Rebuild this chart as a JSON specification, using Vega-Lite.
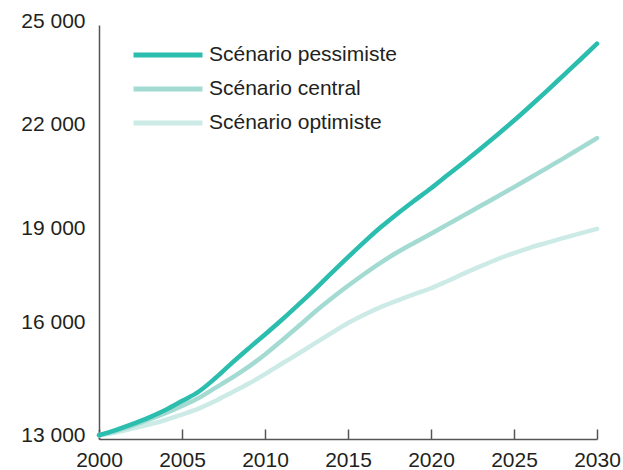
{
  "$schema": "https://vega.github.io/schema/vega-lite/v6.json",
  "width": 498,
  "height": 414,
  "autosize": "none",
  "padding": {"left": 99, "top": 25, "right": 26, "bottom": 31},
  "background": "white",
  "config": {
    "view": {"stroke": null},
    "font": "Liberation Sans"
  },
  "data": {
    "values": [
      {"annee": 2000, "scenario": "Scénario optimiste", "valeur": 13110},
      {"annee": 2001, "scenario": "Scénario optimiste", "valeur": 13190},
      {"annee": 2002, "scenario": "Scénario optimiste", "valeur": 13300},
      {"annee": 2003, "scenario": "Scénario optimiste", "valeur": 13420},
      {"annee": 2004, "scenario": "Scénario optimiste", "valeur": 13550},
      {"annee": 2005, "scenario": "Scénario optimiste", "valeur": 13710},
      {"annee": 2006, "scenario": "Scénario optimiste", "valeur": 13880},
      {"annee": 2007, "scenario": "Scénario optimiste", "valeur": 14100},
      {"annee": 2008, "scenario": "Scénario optimiste", "valeur": 14350},
      {"annee": 2009, "scenario": "Scénario optimiste", "valeur": 14600},
      {"annee": 2010, "scenario": "Scénario optimiste", "valeur": 14880},
      {"annee": 2011, "scenario": "Scénario optimiste", "valeur": 15180},
      {"annee": 2012, "scenario": "Scénario optimiste", "valeur": 15470},
      {"annee": 2013, "scenario": "Scénario optimiste", "valeur": 15770},
      {"annee": 2014, "scenario": "Scénario optimiste", "valeur": 16070},
      {"annee": 2015, "scenario": "Scénario optimiste", "valeur": 16360},
      {"annee": 2016, "scenario": "Scénario optimiste", "valeur": 16610},
      {"annee": 2017, "scenario": "Scénario optimiste", "valeur": 16830},
      {"annee": 2018, "scenario": "Scénario optimiste", "valeur": 17020},
      {"annee": 2019, "scenario": "Scénario optimiste", "valeur": 17200},
      {"annee": 2020, "scenario": "Scénario optimiste", "valeur": 17370},
      {"annee": 2021, "scenario": "Scénario optimiste", "valeur": 17580},
      {"annee": 2022, "scenario": "Scénario optimiste", "valeur": 17800},
      {"annee": 2023, "scenario": "Scénario optimiste", "valeur": 18010},
      {"annee": 2024, "scenario": "Scénario optimiste", "valeur": 18210},
      {"annee": 2025, "scenario": "Scénario optimiste", "valeur": 18390},
      {"annee": 2026, "scenario": "Scénario optimiste", "valeur": 18550},
      {"annee": 2027, "scenario": "Scénario optimiste", "valeur": 18690},
      {"annee": 2028, "scenario": "Scénario optimiste", "valeur": 18830},
      {"annee": 2029, "scenario": "Scénario optimiste", "valeur": 18960},
      {"annee": 2030, "scenario": "Scénario optimiste", "valeur": 19090},
      {"annee": 2000, "scenario": "Scénario central", "valeur": 13110},
      {"annee": 2001, "scenario": "Scénario central", "valeur": 13230},
      {"annee": 2002, "scenario": "Scénario central", "valeur": 13380},
      {"annee": 2003, "scenario": "Scénario central", "valeur": 13560},
      {"annee": 2004, "scenario": "Scénario central", "valeur": 13750},
      {"annee": 2005, "scenario": "Scénario central", "valeur": 13960},
      {"annee": 2006, "scenario": "Scénario central", "valeur": 14190},
      {"annee": 2007, "scenario": "Scénario central", "valeur": 14480},
      {"annee": 2008, "scenario": "Scénario central", "valeur": 14770},
      {"annee": 2009, "scenario": "Scénario central", "valeur": 15090},
      {"annee": 2010, "scenario": "Scénario central", "valeur": 15450},
      {"annee": 2011, "scenario": "Scénario central", "valeur": 15850},
      {"annee": 2012, "scenario": "Scénario central", "valeur": 16260},
      {"annee": 2013, "scenario": "Scénario central", "valeur": 16680},
      {"annee": 2014, "scenario": "Scénario central", "valeur": 17070},
      {"annee": 2015, "scenario": "Scénario central", "valeur": 17440},
      {"annee": 2016, "scenario": "Scénario central", "valeur": 17790},
      {"annee": 2017, "scenario": "Scénario central", "valeur": 18120},
      {"annee": 2018, "scenario": "Scénario central", "valeur": 18420},
      {"annee": 2019, "scenario": "Scénario central", "valeur": 18690},
      {"annee": 2020, "scenario": "Scénario central", "valeur": 18950},
      {"annee": 2021, "scenario": "Scénario central", "valeur": 19220},
      {"annee": 2022, "scenario": "Scénario central", "valeur": 19490},
      {"annee": 2023, "scenario": "Scénario central", "valeur": 19760},
      {"annee": 2024, "scenario": "Scénario central", "valeur": 20030},
      {"annee": 2025, "scenario": "Scénario central", "valeur": 20300},
      {"annee": 2026, "scenario": "Scénario central", "valeur": 20580},
      {"annee": 2027, "scenario": "Scénario central", "valeur": 20860},
      {"annee": 2028, "scenario": "Scénario central", "valeur": 21140},
      {"annee": 2029, "scenario": "Scénario central", "valeur": 21430},
      {"annee": 2030, "scenario": "Scénario central", "valeur": 21720},
      {"annee": 2000, "scenario": "Scénario pessimiste", "valeur": 13110},
      {"annee": 2001, "scenario": "Scénario pessimiste", "valeur": 13260},
      {"annee": 2002, "scenario": "Scénario pessimiste", "valeur": 13430},
      {"annee": 2003, "scenario": "Scénario pessimiste", "valeur": 13620},
      {"annee": 2004, "scenario": "Scénario pessimiste", "valeur": 13840},
      {"annee": 2005, "scenario": "Scénario pessimiste", "valeur": 14100},
      {"annee": 2006, "scenario": "Scénario pessimiste", "valeur": 14370},
      {"annee": 2007, "scenario": "Scénario pessimiste", "valeur": 14760},
      {"annee": 2008, "scenario": "Scénario pessimiste", "valeur": 15200},
      {"annee": 2009, "scenario": "Scénario pessimiste", "valeur": 15620},
      {"annee": 2010, "scenario": "Scénario pessimiste", "valeur": 16030},
      {"annee": 2011, "scenario": "Scénario pessimiste", "valeur": 16450},
      {"annee": 2012, "scenario": "Scénario pessimiste", "valeur": 16890},
      {"annee": 2013, "scenario": "Scénario pessimiste", "valeur": 17340},
      {"annee": 2014, "scenario": "Scénario pessimiste", "valeur": 17810},
      {"annee": 2015, "scenario": "Scénario pessimiste", "valeur": 18270},
      {"annee": 2016, "scenario": "Scénario pessimiste", "valeur": 18720},
      {"annee": 2017, "scenario": "Scénario pessimiste", "valeur": 19150},
      {"annee": 2018, "scenario": "Scénario pessimiste", "valeur": 19540},
      {"annee": 2019, "scenario": "Scénario pessimiste", "valeur": 19910},
      {"annee": 2020, "scenario": "Scénario pessimiste", "valeur": 20270},
      {"annee": 2021, "scenario": "Scénario pessimiste", "valeur": 20650},
      {"annee": 2022, "scenario": "Scénario pessimiste", "valeur": 21030},
      {"annee": 2023, "scenario": "Scénario pessimiste", "valeur": 21420},
      {"annee": 2024, "scenario": "Scénario pessimiste", "valeur": 21820},
      {"annee": 2025, "scenario": "Scénario pessimiste", "valeur": 22230},
      {"annee": 2026, "scenario": "Scénario pessimiste", "valeur": 22660},
      {"annee": 2027, "scenario": "Scénario pessimiste", "valeur": 23100},
      {"annee": 2028, "scenario": "Scénario pessimiste", "valeur": 23550},
      {"annee": 2029, "scenario": "Scénario pessimiste", "valeur": 24000},
      {"annee": 2030, "scenario": "Scénario pessimiste", "valeur": 24460}
    ]
  },
  "mark": {"type": "line", "strokeWidth": 4.5, "interpolate": "monotone", "strokeCap": "round"},
  "encoding": {
    "x": {
      "field": "annee",
      "type": "quantitative",
      "scale": {"domain": [2000, 2030], "nice": false, "zero": false},
      "axis": {
        "title": null,
        "values": [2000, 2005, 2010, 2015, 2020, 2025, 2030],
        "format": "d",
        "grid": false,
        "domainColor": "#555555",
        "domainWidth": 1.5,
        "tickColor": "#555555",
        "tickWidth": 1.5,
        "tickSize": -10,
        "labelFontSize": 21,
        "labelColor": "#231f20",
        "labelPadding": 20,
        "labelFlush": false
      }
    },
    "y": {
      "field": "valeur",
      "type": "quantitative",
      "scale": {"domain": [13000, 25000], "nice": false, "zero": false},
      "axis": {
        "title": null,
        "values": [13000, 16000, 19000, 22000, 25000],
        "labelExpr": "replace(format(datum.value, ','), ',', ' ')",
        "grid": false,
        "ticks": false,
        "domainColor": "#555555",
        "domainWidth": 1.5,
        "labelFontSize": 21,
        "labelColor": "#231f20",
        "labelPadding": 14,
        "labelOffset": {"condition": {"test": "datum.value == 16000", "value": -13}, "value": -4},
        "labelFlush": false
      }
    },
    "color": {
      "field": "scenario",
      "type": "nominal",
      "scale": {
        "domain": ["Scénario pessimiste", "Scénario central", "Scénario optimiste"],
        "range": ["#2bbdad", "#a3dbd3", "#cdebe6"]
      },
      "legend": {
        "title": null,
        "orient": "none",
        "legendX": 55,
        "legendY": 16,
        "symbolType": "M-3,0H3",
        "symbolSize": 529,
        "symbolStrokeWidth": 5,
        "labelFontSize": 21,
        "labelLimit": 400,
        "labelColor": "#231f20",
        "labelOffset": 27,
        "rowPadding": 10
      }
    }
  }
}
